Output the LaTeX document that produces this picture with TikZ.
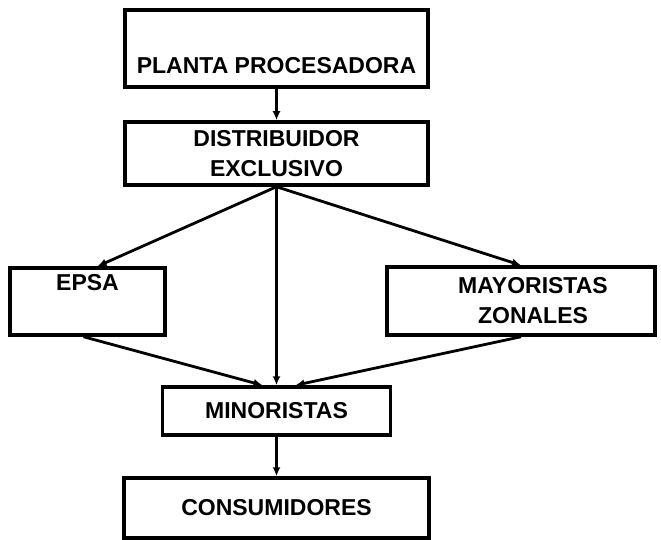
\documentclass[tikz,border=0pt]{standalone}
\usepackage{fontspec}
\setmainfont{Liberation Sans}
\usetikzlibrary{arrows.meta, positioning, calc}
\tikzstyle{stage} = [rectangle, draw=black, line width=3.5pt, align=center, inner sep=0pt, font=\bfseries\fontsize{23}{30}\selectfont]
\tikzstyle{flow} = [-{Latex[length=9pt,width=8pt]}, line width=2.8pt]

\begin{document}
\begin{tikzpicture}[node distance=105pt, x=1pt, y=-1pt]
\useasboundingbox (0,0) rectangle (661,540);
\node (plant) [stage, minimum width=303pt, minimum height=77pt] at (276.5,48.5) {\strut\\PLANTA PROCESADORA};
\node (dist) [stage, minimum width=303pt, minimum height=63pt, below of=plant] {DISTRIBUIDOR\\EXCLUSIVO};
\node (epsa) [stage, minimum width=155pt, minimum height=67pt, below of=dist, xshift=-189pt, yshift=-43pt] {EPSA\\\strut};
\node (mayor) [stage, minimum width=268pt, minimum height=68pt, below of=dist, xshift=244.5pt, yshift=-42.5pt] {\hspace*{24pt}MAYORISTAS\\\hspace*{24pt}ZONALES};
\node (minor) [stage, minimum width=228pt, minimum height=48pt, below of=dist, yshift=-152.5pt] {MINORISTAS};
\node (cons) [stage, minimum width=305pt, minimum height=60pt, below of=minor, yshift=8pt] {CONSUMIDORES};
\draw[flow] (plant) -- (dist);
\draw[flow] (dist.south) -- ([xshift=10pt]epsa.north);
\draw[flow] (dist.south) -- (mayor.north);
\draw[flow] (dist.south) -- (minor.north);
\draw[flow] ([xshift=-4pt]epsa.south) -- ([xshift=-14pt]minor.north);
\draw[flow] (mayor.south) -- ([xshift=19pt]minor.north);
\draw[flow] (minor) -- (cons);
\end{tikzpicture}
\end{document}
